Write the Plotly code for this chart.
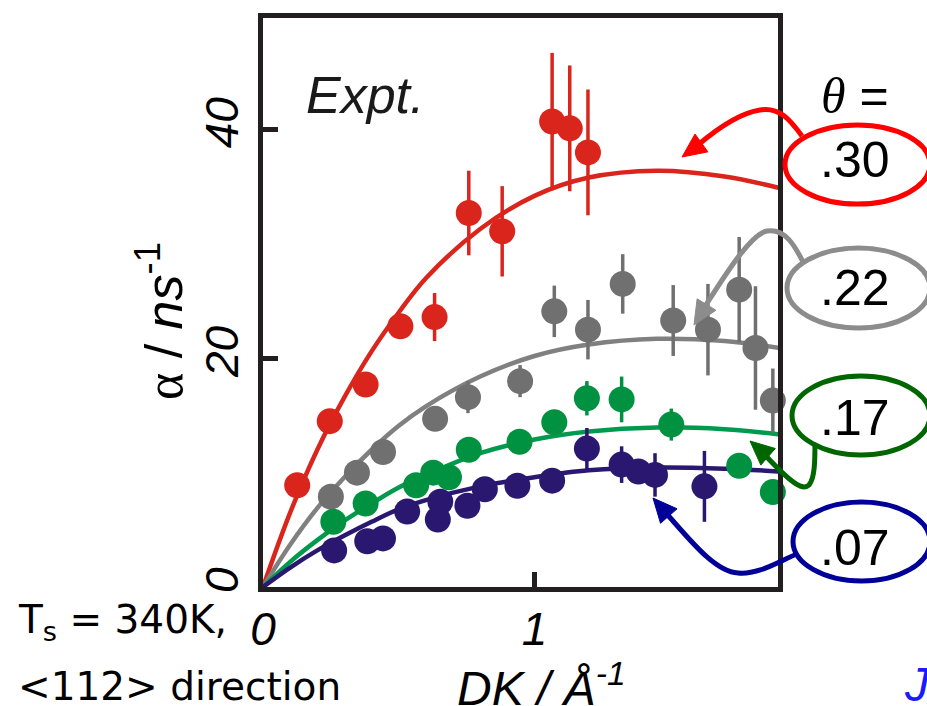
import plotly.graph_objects as go

# ---------------- data ----------------
red_x = [0.126, 0.246, 0.378, 0.506, 0.632, 0.758, 0.881, 1.065, 1.130, 1.197]
red_y = [8.9, 14.5, 17.7, 22.8, 23.6, 32.7, 31.1, 40.7, 40.1, 38.0]
red_err = [0, 0, 0, 0, 2.1, 3.7, 3.95, 6.0, 5.5, 5.5]

gray_x = [0.250, 0.346, 0.442, 0.634, 0.755, 0.947, 1.073, 1.197, 1.325, 1.511, 1.639, 1.754, 1.814, 1.878]
gray_y = [7.9, 10.0, 11.8, 14.7, 16.6, 18.0, 24.1, 22.5, 26.5, 23.3, 22.5, 26.0, 20.9, 16.3]
gray_err = [0, 0, 0, 0, 1.4, 1.4, 2.25, 2.6, 2.6, 3.1, 4.0, 4.6, 5.4, 2.8]

green_x = [0.259, 0.378, 0.564, 0.627, 0.685, 0.758, 0.945, 1.073, 1.193, 1.321, 1.504, 1.754, 1.878]
green_y = [5.7, 7.3, 8.9, 10.0, 9.6, 12.0, 12.7, 14.4, 16.5, 16.4, 14.2, 10.6, 8.3]
green_err = [0, 0, 0, 0, 0, 0, 0, 0, 1.5, 2.0, 1.4, 0, 0]

navy_x = [0.262, 0.384, 0.442, 0.531, 0.644, 0.653, 0.753, 0.817, 0.937, 1.065, 1.193, 1.321, 1.383, 1.444, 1.626]
navy_y = [3.2, 4.0, 4.25, 6.6, 5.9, 7.45, 7.1, 8.55, 8.85, 9.3, 12.1, 10.7, 10.1, 9.8, 8.8]
navy_err = [0, 0, 0, 0, 0, 0, 0, 0, 0, 0, 1.8, 1.6, 0, 1.9, 3.1]

# fitted curves
fit_x = [0, 0.1, 0.2, 0.3, 0.4, 0.5, 0.6, 0.8, 1.0, 1.2, 1.45, 1.7, 1.9]
red_fit = [0, 6.5, 12.0, 16.6, 20.6, 24.0, 27.0, 31.3, 34.2, 35.8, 36.4, 35.9, 34.9]
gray_fit = [0, 3.7, 6.9, 9.6, 12.0, 14.1, 15.8, 18.4, 20.2, 21.2, 21.7, 21.5, 20.9]
green_fit = [0, 2.2, 4.1, 5.8, 7.3, 8.7, 9.8, 11.7, 12.9, 13.6, 13.95, 13.8, 13.35]
navy_fit = [0, 1.7, 3.2, 4.5, 5.7, 6.8, 7.6, 8.8, 9.6, 10.2, 10.45, 10.35, 10.1]

theta_labels = [".30", ".22", ".17", ".07"]
x_ticks = [0, 1]
y_ticks = [0, 20, 40]

# ---------------- styles ----------------
C_RED, C_GRAY, C_GREEN, C_NAVY = "#da251d", "#707070", "#009241", "#2a1870"
C_RED_FIT, C_GRAY_FIT, C_GREEN_FIT, C_NAVY_FIT = "#da251d", "#808080", "#009a4e", "#2a1870"
C_FRAME = "#231f20"
ARROW_COLS = ["#ff0000", "#8c8c8c", "#006600", "#000099"]

W, H = 927, 706
L, R, T, B = 263, 778, 18, 587  # plot area in pixels


def px(x):
    return (x - L) / (R - L)


def py(y):
    return (B - y) / (B - T)


fig = go.Figure()

for fx, fy, col in [(fit_x, red_fit, C_RED_FIT), (fit_x, gray_fit, C_GRAY_FIT),
                    (fit_x, green_fit, C_GREEN_FIT), (fit_x, navy_fit, C_NAVY_FIT)]:
    fig.add_trace(go.Scatter(x=fx, y=fy, mode="lines", line=dict(color=col, width=4.5, shape="spline"),
                             hoverinfo="skip", showlegend=False, cliponaxis=True))

for xs, ys, es, col in [(red_x, red_y, red_err, C_RED), (gray_x, gray_y, gray_err, C_GRAY),
                        (green_x, green_y, green_err, C_GREEN), (navy_x, navy_y, navy_err, C_NAVY)]:
    fig.add_trace(go.Scatter(x=xs, y=ys, mode="markers",
                             marker=dict(size=26, color=col, line=dict(width=0)),
                             error_y=dict(type="data", array=es, visible=True, thickness=3.5, width=0, color=col),
                             showlegend=False, cliponaxis=False))

shapes = []
annotations = []


def path_from(points_cmds):
    out = []
    for cmd, pts in points_cmds:
        coords = " ".join(f"{px(x):.5f},{py(y):.5f}" for x, y in pts)
        out.append(f"{cmd} {coords}")
    return " ".join(out)


def arrow_head(tip, frm, col, length=24, half=11):
    tx, ty = tip
    fx, fy = frm
    dx, dy = tx - fx, ty - fy
    n = (dx * dx + dy * dy) ** 0.5
    ux, uy = dx / n, dy / n
    bx, by = tx - ux * length, ty - uy * length
    p1 = (bx - uy * half, by + ux * half)
    p2 = (bx + uy * half, by - ux * half)
    p = path_from([("M", [tip]), ("L", [p1]), ("L", [p2])]) + " Z"
    return dict(type="path", xref="paper", yref="paper", path=p,
                fillcolor=col, line=dict(color=col, width=1), layer="above")


# curved arrows (pixel positions)
arrows = [
    ([("M", [(802, 136)]), ("C", [(790, 120), (780, 107), (760, 110)]), ("C", [(740, 113), (718, 128), (698, 145)])],
     (682, 157), (700, 144)),
    ([("M", [(803, 262)]), ("C", [(795, 246), (785, 228), (767, 231)]), ("C", [(750, 234), (722, 280), (704, 308)])],
     (694, 325), (705, 307)),
    ([("M", [(815, 439)]), ("C", [(815, 460), (815, 478), (809, 485)]), ("C", [(803, 491), (792, 484), (765, 455)])],
     (750, 441), (766, 455)),
    ([("M", [(802, 552)]), ("C", [(780, 560), (760, 575), (738, 573)]), ("C", [(715, 572), (690, 540), (666, 513)])],
     (653, 498), (667, 514)),
]
for (cmds, tip, frm), col in zip(arrows, ARROW_COLS):
    shapes.append(dict(type="path", xref="paper", yref="paper", path=path_from(cmds),
                       line=dict(color=col, width=5), layer="above"))
    shapes.append(arrow_head(tip, frm, col))

# ellipses with theta labels
ell_boxes = [(785, 125, 930, 204), (787, 248, 930, 328), (792, 376, 930, 455), (793, 502, 930, 581)]
label_y = [158, 286, 416, 546]
for (x0, y0, x1, y1), col, lab, ly in zip(ell_boxes, ARROW_COLS, theta_labels, label_y):
    shapes.append(dict(type="circle", xref="paper", yref="paper", x0=px(x0), x1=px(x1), y0=py(y1), y1=py(y0),
                       line=dict(color=col, width=5), fillcolor="rgba(255,255,255,1)", layer="above"))
    annotations.append(dict(x=px(855), y=py(ly + 2), xref="paper", yref="paper", text=lab, showarrow=False,
                            xanchor="center", yanchor="middle",
                            font=dict(family="Liberation Sans, Arial", size=50, color="black")))

annotations += [
    dict(x=px(855), y=py(96), xref="paper", yref="paper", showarrow=False, xanchor="center", yanchor="middle",
         text='<span style="font-family:Liberation Serif"><i>θ</i></span> =',
         font=dict(family="Liberation Sans, Arial", size=50, color="black")),
    dict(x=px(304), y=py(95), xref="paper", yref="paper", showarrow=False, xanchor="left", yanchor="middle",
         text="Expt.", font=dict(family="Liberation Sans, Arial", size=52, color="#1a1a1a", style="italic")),
    dict(x=px(16), y=py(622), xref="paper", yref="paper", showarrow=False, xanchor="left", yanchor="middle",
         text="T<sub>s</sub> = 340K,", font=dict(family="DejaVu Sans", size=39, color="black")),
    dict(x=px(16), y=py(686), xref="paper", yref="paper", showarrow=False, xanchor="left", yanchor="middle",
         text="<112> direction", font=dict(family="DejaVu Sans", size=39, color="black")),
    dict(x=px(541), y=py(685), xref="paper", yref="paper", showarrow=False, xanchor="center", yanchor="middle",
         text="DK / Å<sup>-1</sup>", font=dict(family="Liberation Sans, Arial", size=48, color="black", style="italic")),
    dict(x=px(160), y=py(321), xref="paper", yref="paper", showarrow=False, xanchor="center", yanchor="middle",
         textangle=-90,
         text='<span style="font-family:Liberation Serif;font-style:normal">α</span> / <i>ns</i><sup>-1</sup>',
         font=dict(family="Liberation Sans, Arial", size=52, color="black")),
    dict(x=px(902), y=py(684), xref="paper", yref="paper", showarrow=False, xanchor="left", yanchor="middle",
         text="J", font=dict(family="Liberation Sans, Arial", size=48, color="#1a1aff", style="italic")),
]

fig.update_layout(
    width=W, height=H,
    margin=dict(l=L, r=W - R, t=T, b=H - B, pad=0),
    paper_bgcolor="white", plot_bgcolor="white",
    shapes=shapes, annotations=annotations,
    xaxis=dict(range=[0, 1.897], tickvals=x_ticks, ticktext=[str(v) for v in x_ticks],
               ticks="inside", ticklen=15, tickwidth=5, tickcolor=C_FRAME,
               showline=True, linewidth=5, linecolor=C_FRAME, mirror=True,
               showgrid=False, zeroline=False, ticklabelstandoff=-2,
               tickfont=dict(family="Liberation Sans, Arial", size=46, color="black", style="italic")),
    yaxis=dict(range=[0, 49.75], tickvals=y_ticks, ticktext=[str(v) for v in y_ticks],
               ticks="inside", ticklen=15, tickwidth=5, tickcolor=C_FRAME,
               showline=True, linewidth=5, linecolor=C_FRAME, mirror=True,
               showgrid=False, zeroline=False, tickangle=-90, ticklabelstandoff=2,
               tickfont=dict(family="Liberation Sans, Arial", size=46, color="black", style="italic")),
)

fig.write_html("out.html")
